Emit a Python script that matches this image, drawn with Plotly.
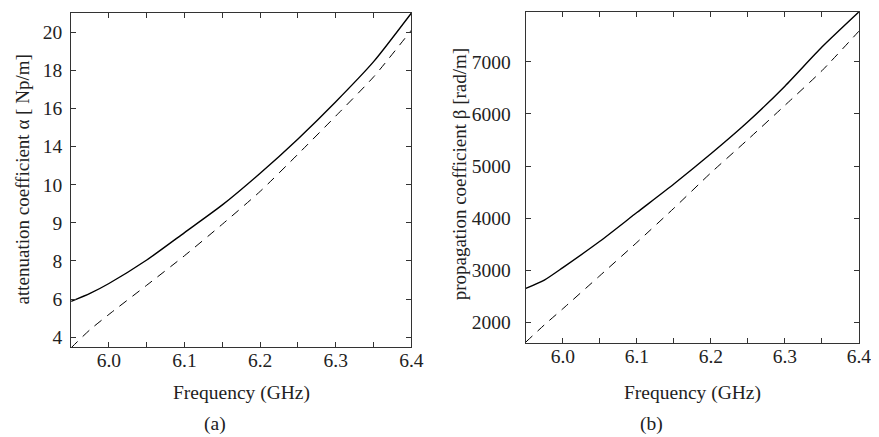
import plotly.graph_objects as go

freq = [5.95, 5.975, 6.0, 6.05, 6.1, 6.15, 6.2, 6.25, 6.3, 6.35, 6.4]
alpha_solid = [5.88, 6.3, 6.82, 8.05, 9.49, 10.94, 12.6, 14.4, 16.35, 18.45, 21.0]
alpha_dashed = [3.45, 4.4, 5.2, 6.73, 8.28, 9.93, 11.65, 13.6, 15.6, 17.65, 20.1]
beta_solid = [2650, 2810, 3050, 3555, 4107, 4655, 5235, 5850, 6534, 7285, 7960]
beta_dashed = [1620, 1950, 2260, 2895, 3533, 4190, 4870, 5510, 6165, 6830, 7590]

x_tickvals = [6.0, 6.05, 6.1, 6.15, 6.2, 6.25, 6.3, 6.35, 6.4]
x_ticktext = ["6.0", "", "6.1", "", "6.2", "", "6.3", "", "6.4"]
alpha_tickvals = [4, 6, 8, 10, 12, 14, 16, 18, 20]
alpha_ticktext = ["4", "6", "8", "9", "10", "14", "16", "18", "20"]
beta_tickvals = [2000, 3000, 4000, 5000, 6000, 7000]
beta_ticktext = ["2000", "3000", "4000", "5000", "6000", "7000"]

W, H = 879, 437
font = dict(family="Liberation Serif", size=19.5, color="#222")
title_font = dict(family="Liberation Serif", size=19, color="#222")

fig = go.Figure()
solid = dict(color="black", width=1.4, shape="spline", smoothing=0.6)
dashed = dict(color="black", width=1, dash="9px,7px", shape="spline", smoothing=0.6)
fig.add_trace(go.Scatter(x=freq, y=alpha_solid, mode="lines", line=solid, xaxis="x", yaxis="y", showlegend=False))
fig.add_trace(go.Scatter(x=freq, y=alpha_dashed, mode="lines", line=dashed, xaxis="x", yaxis="y", showlegend=False))
fig.add_trace(go.Scatter(x=freq, y=beta_solid, mode="lines", line=solid, xaxis="x2", yaxis="y2", showlegend=False))
fig.add_trace(go.Scatter(x=freq, y=beta_dashed, mode="lines", line=dashed, xaxis="x2", yaxis="y2", showlegend=False))

def px_x(p):
    return p / W

def px_y(p):
    return 1 - p / H

common = dict(showline=True, mirror="ticks", linecolor="#333", linewidth=1.2,
              ticks="inside", ticklen=5, tickcolor="#333", tickwidth=1,
              showgrid=False, zeroline=False, tickfont=font)

fig.update_layout(
    width=W, height=H,
    margin=dict(l=0, r=0, t=0, b=0),
    paper_bgcolor="white", plot_bgcolor="white",
    font=font,
    xaxis=dict(domain=[px_x(64), px_x(409)], range=[5.95, 6.4], anchor="y",
               tickvals=x_tickvals, ticktext=x_ticktext, ticklabelstandoff=-5, **common),
    yaxis=dict(domain=[px_y(340), px_y(5)], range=[3.48, 21.0], anchor="x",
               tickvals=alpha_tickvals, ticktext=alpha_ticktext, ticklabelstandoff=4, **common),
    xaxis2=dict(domain=[px_x(525), px_x(862.7)], range=[5.95, 6.4], anchor="y2",
                tickvals=x_tickvals, ticktext=x_ticktext, ticklabelstandoff=-5, **common),
    yaxis2=dict(domain=[px_y(336), px_y(4)], range=[1598, 7958], anchor="x2",
                tickvals=beta_tickvals, ticktext=beta_ticktext, ticklabelstandoff=10, **common),
)

annots = [
    dict(text="Frequency (GHz)", x=px_x(236.5), y=px_y(386), font=font),
    dict(text="(a)", x=px_x(210), y=px_y(417), font=font),
    dict(text="Frequency (GHz)", x=px_x(694), y=px_y(386), font=font),
    dict(text="(b)", x=px_x(652), y=px_y(417), font=font),
    dict(text="attenuation coefficient α [ Np/m]", x=px_x(15), y=px_y(172), textangle=-90, font=title_font),
    dict(text="propagation coefficient β [rad/m]", x=px_x(458), y=px_y(166), textangle=-90, font=title_font),
]
for a in annots:
    fig.add_annotation(xref="paper", yref="paper", showarrow=False, xanchor="center", yanchor="middle", **a)

fig.write_html("out.html")
